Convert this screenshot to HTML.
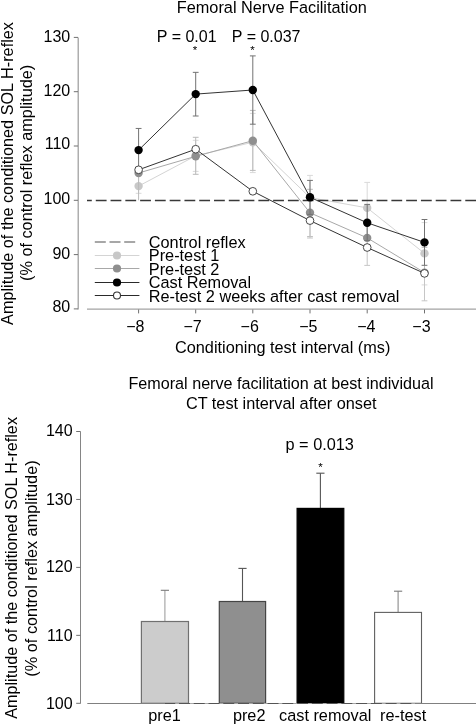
<!DOCTYPE html>
<html><head><meta charset="utf-8"><style>
html,body{margin:0;padding:0;background:#fff;width:476px;height:724px;overflow:hidden}
svg{display:block;will-change:transform}
text{font-family:"Liberation Sans", sans-serif;fill:#000}
</style></head><body>
<svg width="476" height="724" viewBox="0 0 476 724">
<rect width="476" height="724" fill="#fff"/>
<text x="176.8" y="12.6" font-size="16.3">Femoral Nerve Facilitation</text>
<text x="156.8" y="41.9" font-size="16">P = 0.01</text>
<text x="231.8" y="41.9" font-size="16">P = 0.037</text>
<text x="195.1" y="54.4" font-size="11.5" text-anchor="middle">*</text>
<text x="252.5" y="54.4" font-size="11.5" text-anchor="middle">*</text>
<line x1="78.2" y1="37.4" x2="78.2" y2="309.4" stroke="#9a9a9a" stroke-width="1.2"/>
<line x1="73.8" y1="37.40" x2="78" y2="37.40" stroke="#707070" stroke-width="1.0"/>
<text x="70.2" y="42.2" font-size="16" text-anchor="end">130</text>
<line x1="73.8" y1="91.70" x2="78" y2="91.70" stroke="#707070" stroke-width="1.0"/>
<text x="70.2" y="95.6" font-size="16" text-anchor="end">120</text>
<line x1="73.8" y1="146.00" x2="78" y2="146.00" stroke="#707070" stroke-width="1.0"/>
<text x="70.2" y="149.1" font-size="16" text-anchor="end">110</text>
<line x1="73.8" y1="200.30" x2="78" y2="200.30" stroke="#707070" stroke-width="1.0"/>
<text x="70.2" y="203.5" font-size="16" text-anchor="end">100</text>
<line x1="73.8" y1="254.60" x2="78" y2="254.60" stroke="#707070" stroke-width="1.0"/>
<text x="70.2" y="258.5" font-size="16" text-anchor="end">90</text>
<line x1="73.8" y1="308.90" x2="78" y2="308.90" stroke="#707070" stroke-width="1.0"/>
<text x="70.2" y="312.1" font-size="16" text-anchor="end">80</text>
<line x1="87" y1="309.1" x2="476" y2="309.1" stroke="#a3a3a3" stroke-width="1.4"/>
<line x1="138.60" y1="309.5" x2="138.60" y2="313.4" stroke="#707070" stroke-width="1.0"/>
<text x="135.32" y="331.6" font-size="16" text-anchor="middle">−8</text>
<line x1="195.70" y1="309.5" x2="195.70" y2="313.4" stroke="#707070" stroke-width="1.0"/>
<text x="192.62" y="331.6" font-size="16" text-anchor="middle">−7</text>
<line x1="252.80" y1="309.5" x2="252.80" y2="313.4" stroke="#707070" stroke-width="1.0"/>
<text x="249.72" y="331.6" font-size="16" text-anchor="middle">−6</text>
<line x1="310.00" y1="309.5" x2="310.00" y2="313.4" stroke="#707070" stroke-width="1.0"/>
<text x="308.32" y="331.6" font-size="16" text-anchor="middle">−5</text>
<line x1="367.20" y1="309.5" x2="367.20" y2="313.4" stroke="#707070" stroke-width="1.0"/>
<text x="366.32" y="331.6" font-size="16" text-anchor="middle">−4</text>
<line x1="424.50" y1="309.5" x2="424.50" y2="313.4" stroke="#707070" stroke-width="1.0"/>
<text x="421.42" y="331.6" font-size="16" text-anchor="middle">−3</text>
<text x="282.7" y="352.5" font-size="16.3" text-anchor="middle">Conditioning test interval (ms)</text>
<text transform="translate(12.5,173.5) rotate(-90)" font-size="16.25" text-anchor="middle">Amplitude of the conditioned SOL H-reflex</text>
<text transform="translate(32,172.9) rotate(-90)" font-size="16.3" text-anchor="middle">(% of control reflex amplitude)</text>
<polyline points="138.60,186.10 195.70,155.80 252.80,142.20 310.00,197.60 367.20,207.90 424.50,253.40" fill="none" stroke="#d4d4d4" stroke-width="1.0"/>
<line x1="138.60" y1="178.00" x2="138.60" y2="193.30" stroke="#d9d9d9" stroke-width="1.0"/>
<line x1="135.70" y1="193.30" x2="141.50" y2="193.30" stroke="#d9d9d9" stroke-width="1.0"/>
<line x1="195.70" y1="140.30" x2="195.70" y2="171.40" stroke="#d9d9d9" stroke-width="1.0"/>
<line x1="192.80" y1="140.30" x2="198.60" y2="140.30" stroke="#d9d9d9" stroke-width="1.0"/>
<line x1="192.80" y1="171.40" x2="198.60" y2="171.40" stroke="#d9d9d9" stroke-width="1.0"/>
<line x1="252.80" y1="113.40" x2="252.80" y2="172.60" stroke="#d9d9d9" stroke-width="1.0"/>
<line x1="249.90" y1="113.40" x2="255.70" y2="113.40" stroke="#d9d9d9" stroke-width="1.0"/>
<line x1="249.90" y1="172.60" x2="255.70" y2="172.60" stroke="#d9d9d9" stroke-width="1.0"/>
<line x1="310.00" y1="175.40" x2="310.00" y2="219.80" stroke="#d9d9d9" stroke-width="1.0"/>
<line x1="307.10" y1="175.40" x2="312.90" y2="175.40" stroke="#d9d9d9" stroke-width="1.0"/>
<line x1="367.20" y1="182.40" x2="367.20" y2="233.40" stroke="#d9d9d9" stroke-width="1.0"/>
<line x1="364.30" y1="182.40" x2="370.10" y2="182.40" stroke="#d9d9d9" stroke-width="1.0"/>
<line x1="424.50" y1="222.60" x2="424.50" y2="284.90" stroke="#d9d9d9" stroke-width="1.0"/>
<line x1="421.60" y1="222.60" x2="427.40" y2="222.60" stroke="#d9d9d9" stroke-width="1.0"/>
<line x1="421.60" y1="284.90" x2="427.40" y2="284.90" stroke="#d9d9d9" stroke-width="1.0"/>
<circle cx="138.60" cy="186.10" r="4.20" fill="#c8c8c8"/>
<circle cx="195.70" cy="155.80" r="4.20" fill="#c8c8c8"/>
<circle cx="252.80" cy="142.20" r="4.20" fill="#c8c8c8"/>
<circle cx="310.00" cy="197.60" r="4.20" fill="#c8c8c8"/>
<circle cx="367.20" cy="207.90" r="4.20" fill="#c8c8c8"/>
<circle cx="424.50" cy="253.40" r="4.20" fill="#c8c8c8"/>
<line x1="87" y1="200.5" x2="476" y2="200.5" stroke="#383838" stroke-width="1.35" stroke-dasharray="10.8 3.98" stroke-dashoffset="6"/>
<polyline points="138.60,173.00 195.70,156.30 252.80,140.70 310.00,212.80 367.20,237.90 424.50,272.60" fill="none" stroke="#a8a8a8" stroke-width="1.0"/>
<line x1="138.60" y1="172.60" x2="138.60" y2="200.30" stroke="#bababa" stroke-width="1.0"/>
<line x1="195.70" y1="137.30" x2="195.70" y2="174.30" stroke="#bababa" stroke-width="1.0"/>
<line x1="192.80" y1="137.30" x2="198.60" y2="137.30" stroke="#bababa" stroke-width="1.0"/>
<line x1="192.80" y1="174.30" x2="198.60" y2="174.30" stroke="#bababa" stroke-width="1.0"/>
<line x1="252.80" y1="110.40" x2="252.80" y2="170.40" stroke="#bababa" stroke-width="1.0"/>
<line x1="249.90" y1="110.40" x2="255.70" y2="110.40" stroke="#bababa" stroke-width="1.0"/>
<line x1="249.90" y1="170.40" x2="255.70" y2="170.40" stroke="#bababa" stroke-width="1.0"/>
<line x1="310.00" y1="189.30" x2="310.00" y2="236.60" stroke="#bababa" stroke-width="1.0"/>
<line x1="307.10" y1="189.30" x2="312.90" y2="189.30" stroke="#bababa" stroke-width="1.0"/>
<line x1="307.10" y1="236.60" x2="312.90" y2="236.60" stroke="#bababa" stroke-width="1.0"/>
<line x1="367.20" y1="225.00" x2="367.20" y2="250.80" stroke="#bababa" stroke-width="1.0"/>
<line x1="424.50" y1="247.30" x2="424.50" y2="297.90" stroke="#bababa" stroke-width="1.0"/>
<line x1="421.60" y1="247.30" x2="427.40" y2="247.30" stroke="#bababa" stroke-width="1.0"/>
<circle cx="138.60" cy="173.00" r="4.20" fill="#8f8f8f"/>
<circle cx="195.70" cy="156.30" r="4.20" fill="#8f8f8f"/>
<circle cx="252.80" cy="140.70" r="4.20" fill="#8f8f8f"/>
<circle cx="310.00" cy="212.80" r="4.20" fill="#8f8f8f"/>
<circle cx="367.20" cy="237.90" r="4.20" fill="#8f8f8f"/>
<circle cx="424.50" cy="272.60" r="4.20" fill="#8f8f8f"/>
<polyline points="138.60,150.10 195.70,94.10 252.80,90.00 310.00,197.30 367.20,222.80 424.50,242.40" fill="none" stroke="#333" stroke-width="1.0"/>
<line x1="138.60" y1="128.45" x2="138.60" y2="171.55" stroke="#727272" stroke-width="1.0"/>
<line x1="135.70" y1="128.45" x2="141.50" y2="128.45" stroke="#727272" stroke-width="1.0"/>
<line x1="195.70" y1="72.35" x2="195.70" y2="116.00" stroke="#727272" stroke-width="1.0"/>
<line x1="192.80" y1="72.35" x2="198.60" y2="72.35" stroke="#727272" stroke-width="1.0"/>
<line x1="192.80" y1="116.00" x2="198.60" y2="116.00" stroke="#727272" stroke-width="1.0"/>
<line x1="252.80" y1="55.90" x2="252.80" y2="124.20" stroke="#727272" stroke-width="1.0"/>
<line x1="249.90" y1="55.90" x2="255.70" y2="55.90" stroke="#727272" stroke-width="1.0"/>
<line x1="249.90" y1="124.20" x2="255.70" y2="124.20" stroke="#727272" stroke-width="1.0"/>
<line x1="310.00" y1="180.40" x2="310.00" y2="214.40" stroke="#727272" stroke-width="1.0"/>
<line x1="307.10" y1="180.40" x2="312.90" y2="180.40" stroke="#727272" stroke-width="1.0"/>
<line x1="307.10" y1="214.40" x2="312.90" y2="214.40" stroke="#727272" stroke-width="1.0"/>
<line x1="367.20" y1="204.40" x2="367.20" y2="240.60" stroke="#727272" stroke-width="1.0"/>
<line x1="364.30" y1="204.40" x2="370.10" y2="204.40" stroke="#727272" stroke-width="1.0"/>
<line x1="364.30" y1="240.60" x2="370.10" y2="240.60" stroke="#727272" stroke-width="1.0"/>
<line x1="424.50" y1="219.50" x2="424.50" y2="265.30" stroke="#727272" stroke-width="1.0"/>
<line x1="421.60" y1="219.50" x2="427.40" y2="219.50" stroke="#727272" stroke-width="1.0"/>
<line x1="421.60" y1="265.30" x2="427.40" y2="265.30" stroke="#727272" stroke-width="1.0"/>
<circle cx="138.60" cy="150.10" r="4.20" fill="#000"/>
<circle cx="195.70" cy="94.10" r="4.20" fill="#000"/>
<circle cx="252.80" cy="90.00" r="4.20" fill="#000"/>
<circle cx="310.00" cy="197.30" r="4.20" fill="#000"/>
<circle cx="367.20" cy="222.80" r="4.20" fill="#000"/>
<circle cx="424.50" cy="242.40" r="4.20" fill="#000"/>
<polyline points="138.60,169.80 195.70,149.20 252.80,191.30 310.00,220.60 367.20,247.50 424.50,273.40" fill="none" stroke="#333" stroke-width="1.0"/>
<line x1="310.00" y1="220.60" x2="310.00" y2="238.00" stroke="#c6c6c6" stroke-width="1.0"/>
<line x1="307.10" y1="238.00" x2="312.90" y2="238.00" stroke="#c6c6c6" stroke-width="1.0"/>
<line x1="367.20" y1="247.50" x2="367.20" y2="265.40" stroke="#c6c6c6" stroke-width="1.0"/>
<line x1="364.30" y1="265.40" x2="370.10" y2="265.40" stroke="#c6c6c6" stroke-width="1.0"/>
<line x1="424.50" y1="273.40" x2="424.50" y2="300.80" stroke="#c6c6c6" stroke-width="1.0"/>
<line x1="421.60" y1="300.80" x2="427.40" y2="300.80" stroke="#c6c6c6" stroke-width="1.0"/>
<circle cx="138.60" cy="169.80" r="3.85" fill="#fff" stroke="#333" stroke-width="0.9"/>
<circle cx="195.70" cy="149.20" r="3.85" fill="#fff" stroke="#333" stroke-width="0.9"/>
<circle cx="252.80" cy="191.30" r="3.85" fill="#fff" stroke="#333" stroke-width="0.9"/>
<circle cx="310.00" cy="220.60" r="3.85" fill="#fff" stroke="#333" stroke-width="0.9"/>
<circle cx="367.20" cy="247.50" r="3.85" fill="#fff" stroke="#333" stroke-width="0.9"/>
<circle cx="424.50" cy="273.40" r="3.85" fill="#fff" stroke="#333" stroke-width="0.9"/>
<line x1="94.8" y1="242" x2="135.2" y2="242" stroke="#8a8a8a" stroke-width="1.6" stroke-dasharray="11 3.7"/>
<line x1="94.8" y1="255.5" x2="139.4" y2="255.5" stroke="#d4d4d4" stroke-width="1.1"/>
<circle cx="117" cy="255.5" r="4.1" fill="#c8c8c8"/>
<line x1="94.8" y1="268.5" x2="139.4" y2="268.5" stroke="#a8a8a8" stroke-width="1.1"/>
<circle cx="117" cy="268.5" r="4.1" fill="#8f8f8f"/>
<line x1="94.8" y1="282.5" x2="139.4" y2="282.5" stroke="#2a2a2a" stroke-width="1.1"/>
<circle cx="117" cy="282.5" r="4.1" fill="#000"/>
<line x1="94.8" y1="295.5" x2="139.4" y2="295.5" stroke="#2a2a2a" stroke-width="1.1"/>
<circle cx="117" cy="295.5" r="3.5" fill="#fff" stroke="#333" stroke-width="1.1"/>
<text x="148.8" y="248.0" font-size="16.3">Control reflex</text>
<text x="148.8" y="261.3" font-size="16.3">Pre-test 1</text>
<text x="148.8" y="274.6" font-size="16.3">Pre-test 2</text>
<text x="148.8" y="288.1" font-size="16.3">Cast Removal</text>
<text x="148.8" y="301.5" font-size="16.3">Re-test 2 weeks after cast removal</text>
<text x="281" y="389.1" font-size="16.15" text-anchor="middle">Femoral nerve facilitation at best individual</text>
<text x="281.2" y="408.6" font-size="16.3" text-anchor="middle">CT test interval after onset</text>
<line x1="80.5" y1="431.5" x2="80.5" y2="703.6" stroke="#858585" stroke-width="1.0"/>
<line x1="76.2" y1="431.50" x2="80.5" y2="431.50" stroke="#707070" stroke-width="1.0"/>
<text x="72.6" y="436.4" font-size="16" text-anchor="end">140</text>
<line x1="76.2" y1="499.45" x2="80.5" y2="499.45" stroke="#707070" stroke-width="1.0"/>
<text x="72.6" y="504.8" font-size="16" text-anchor="end">130</text>
<line x1="76.2" y1="567.40" x2="80.5" y2="567.40" stroke="#707070" stroke-width="1.0"/>
<text x="72.6" y="572.0" font-size="16" text-anchor="end">120</text>
<line x1="76.2" y1="635.35" x2="80.5" y2="635.35" stroke="#707070" stroke-width="1.0"/>
<text x="72.6" y="640.5" font-size="16" text-anchor="end">110</text>
<line x1="76.2" y1="703.30" x2="80.5" y2="703.30" stroke="#707070" stroke-width="1.0"/>
<text x="72.6" y="709.0" font-size="16" text-anchor="end">100</text>
<text transform="translate(17.3,567.9) rotate(-90)" font-size="16.2" text-anchor="middle">Amplitude of the conditioned SOL H-reflex</text>
<text transform="translate(37.4,568.5) rotate(-90)" font-size="16.3" text-anchor="middle">(% of control reflex amplitude)</text>
<line x1="164.9" y1="590.3" x2="164.9" y2="621.5" stroke="#a0a0a0" stroke-width="1.1"/>
<line x1="160.8" y1="590.3" x2="169.0" y2="590.3" stroke="#7a7a7a" stroke-width="1.1"/>
<rect x="141.4" y="621.5" width="47.099999999999994" height="81.79999999999995" fill="#cccccc" stroke="#707070" stroke-width="1.2"/>
<text x="164.6" y="720.8" font-size="16.3" text-anchor="middle">pre1</text>
<line x1="242.5" y1="568.4" x2="242.5" y2="601.5" stroke="#555555" stroke-width="1.1"/>
<line x1="238.4" y1="568.4" x2="246.6" y2="568.4" stroke="#555555" stroke-width="1.1"/>
<rect x="219.3" y="601.5" width="46.30000000000001" height="101.79999999999995" fill="#8f8f8f" stroke="#454545" stroke-width="1.2"/>
<text x="249.2" y="720.8" font-size="16.3" text-anchor="middle">pre2</text>
<line x1="320.4" y1="473.2" x2="320.4" y2="508.4" stroke="#555555" stroke-width="1.1"/>
<line x1="316.29999999999995" y1="473.2" x2="324.5" y2="473.2" stroke="#555555" stroke-width="1.1"/>
<rect x="297.1" y="508.4" width="46.69999999999999" height="194.89999999999998" fill="#000000" stroke="#000000" stroke-width="1.2"/>
<text x="325.2" y="720.8" font-size="16.3" text-anchor="middle">cast removal</text>
<line x1="398.1" y1="591.2" x2="398.1" y2="612.4" stroke="#8a8a8a" stroke-width="1.1"/>
<line x1="394.0" y1="591.2" x2="402.20000000000005" y2="591.2" stroke="#7a7a7a" stroke-width="1.1"/>
<rect x="374.6" y="612.4" width="46.89999999999998" height="90.89999999999998" fill="#ffffff" stroke="#606060" stroke-width="1.1"/>
<text x="403.2" y="720.8" font-size="16.3" text-anchor="middle">re-test</text>
<line x1="87.3" y1="703.5" x2="476" y2="703.5" stroke="#808080" stroke-width="1.0"/>
<line x1="165" y1="703.5" x2="415.5" y2="703.5" stroke="#a8a8a8" stroke-width="1.0"/>
<line x1="165" y1="703.5" x2="415.5" y2="703.5" stroke="#555" stroke-width="1.0" stroke-dasharray="10.96 3.8" stroke-dashoffset="0.7599999999999998"/>
<text x="319.7" y="449.8" font-size="16.3" text-anchor="middle">p = 0.013</text>
<text x="320.5" y="470.5" font-size="11.5" text-anchor="middle">*</text>
</svg>
</body></html>
